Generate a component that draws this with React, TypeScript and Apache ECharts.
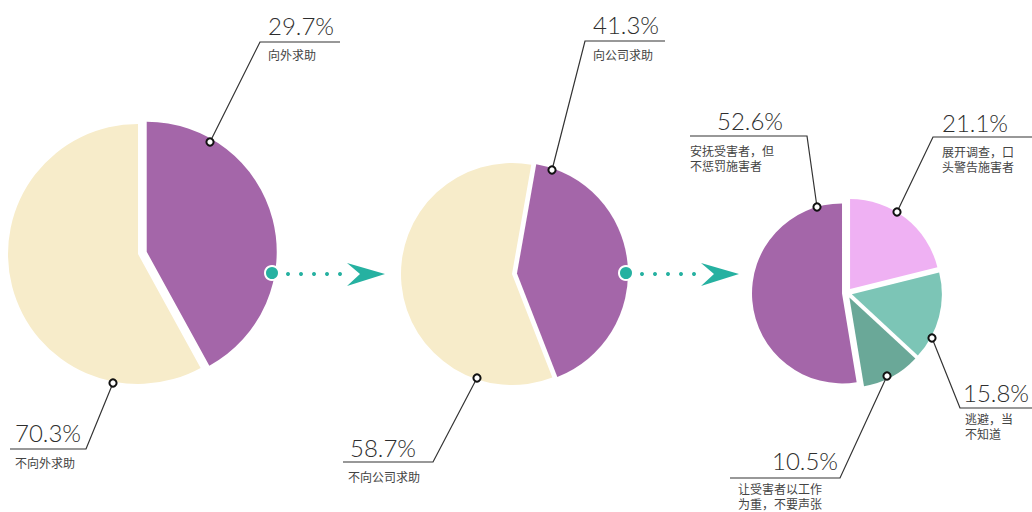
import React, { useEffect, useRef } from "react";
import * as echarts from "echarts";

// ---- data ----
const pie1Names = ["向外求助", "不向外求助"];
const pie1Labels = ["29.7%", "70.3%"];
const pie1Shares = [42, 58]; // slice sizes as drawn in the picture

const pie2Names = ["向公司求助", "不向公司求助"];
const pie2Values = [41.3, 58.7];

const pie3Names = [
  "展开调查，口\n头警告施害者",
  "逃避，当\n不知道",
  "让受害者以工作\n为重，不要声张",
  "安抚受害者，但\n不惩罚施害者",
];
const pie3Values = [21.1, 15.8, 10.5, 52.6];

const PURPLE = "#a466a9";
const CREAM = "#f7ecca";
const pie3Colors = ["#efb1f3", "#7cc5b6", "#6aa898", PURPLE];
const TEAL = "#26b1a1";

const pctFont = "300 24px Lato, 'Noto Sans', sans-serif";
const smallFont = "12px 'Noto Sans CJK SC', sans-serif";

function leader(p: number[][]) {
  return [
    {
      type: "polyline",
      z: 100,
      shape: { points: p },
      style: { stroke: "#333", lineWidth: 1.2, fill: null },
    },
    {
      type: "circle",
      z: 101,
      shape: { cx: p[0][0], cy: p[0][1], r: 3.6 },
      style: { fill: "#fff", stroke: "#111", lineWidth: 2 },
    },
  ];
}

function pct(text: string, x: number, y: number) {
  return {
    type: "text",
    z: 100,
    x,
    y,
    style: { text, font: pctFont, fill: "#2e2e2e", verticalAlign: "top" },
  };
}

function small(text: string, x: number, y: number) {
  return text.split("\n").map((line, i) => ({
    type: "text",
    z: 100,
    x,
    y: y + i * 15,
    style: {
      text: line,
      font: smallFont,
      fill: "#444",
      verticalAlign: "top",
    },
  }));
}

function arrow(cx: number) {
  const els: any[] = [];
  [16, 29, 42, 55, 68].forEach((d) =>
    els.push({
      type: "circle",
      z: 100,
      shape: { cx: cx + d, cy: 274, r: 2 },
      style: { fill: TEAL },
    })
  );
  els.push({
    type: "polygon",
    z: 100,
    shape: {
      points: [
        [cx + 75, 263],
        [cx + 113, 274],
        [cx + 75, 286],
        [cx + 88, 274],
      ],
    },
    style: { fill: TEAL },
  });
  els.push({
    type: "circle",
    z: 101,
    shape: { cx, cy: 273, r: 7 },
    style: { fill: TEAL, stroke: "#fff", lineWidth: 2 },
  });
  return els;
}

const App: React.FC = () => {
  const ref = useRef<HTMLDivElement>(null);

  useEffect(() => {
    if (!ref.current) return;
    const chart = echarts.init(ref.current, undefined, { renderer: "svg" });

    const baseSeries = {
      type: "pie",
      silent: true,
      selectedMode: "multiple",
      label: { show: false },
      labelLine: { show: false },
      emphasis: { disabled: true },
      itemStyle: { borderWidth: 0 },
    };

    const option: any = {
      animation: false,
      backgroundColor: "#fff",
      series: [
        {
          ...baseSeries,
          center: [138, 254],
          radius: 130,
          startAngle: 90,
          selectedOffset: 9,
          data: pie1Names.map((n, i) => ({
            name: n,
            value: pie1Shares[i],
            selected: i === 0,
            itemStyle: { color: i === 0 ? PURPLE : CREAM },
          })),
        },
        {
          ...baseSeries,
          center: [512, 274],
          radius: 111,
          startAngle: 80,
          selectedOffset: 5,
          data: pie2Names.map((n, i) => ({
            name: n,
            value: pie2Values[i],
            selected: i === 0,
            itemStyle: { color: i === 0 ? PURPLE : CREAM },
          })),
        },
        {
          ...baseSeries,
          center: [847, 293],
          radius: 90,
          startAngle: 90,
          selectedOffset: 5,
          data: pie3Names.map((n, i) => ({
            name: n,
            value: pie3Values[i],
            selected: true,
            itemStyle: { color: pie3Colors[i] },
          })),
        },
      ],
      graphic: [
        // pie 1
        ...leader([[210, 142], [260, 42], [340, 42]]),
        pct(pie1Labels[0], 268, 13),
        ...small(pie1Names[0], 268, 48),
        ...leader([[113, 383], [86, 449], [10, 449]]),
        pct(pie1Labels[1], 15, 420),
        ...small(pie1Names[1], 15, 456),
        // pie 2
        ...leader([[552, 170], [585, 41], [665, 41]]),
        pct(pie2Values[0].toFixed(1) + "%", 593, 12),
        ...small(pie2Names[0], 593, 48),
        ...leader([[477, 378], [433, 462], [343, 462]]),
        pct(pie2Values[1].toFixed(1) + "%", 350, 435),
        ...small(pie2Names[1], 348, 470),
        // pie 3
        ...leader([[817, 207], [807, 136], [690, 136]]),
        pct(pie3Values[3].toFixed(1) + "%", 717, 108),
        ...small(pie3Names[3], 690, 144),
        ...leader([[897, 212], [933, 137], [1032, 137]]),
        pct(pie3Values[0].toFixed(1) + "%", 942, 110),
        ...small(pie3Names[0], 942, 145),
        ...leader([[932, 338], [960, 408], [1032, 408]]),
        pct(pie3Values[1].toFixed(1) + "%", 963, 380),
        ...small(pie3Names[1], 965, 412),
        ...leader([[887, 376], [840, 478], [730, 478]]),
        pct(pie3Values[2].toFixed(1) + "%", 772, 448),
        ...small(pie3Names[2], 738, 482),
        // arrows
        ...arrow(272),
        ...arrow(626),
      ],
    };

    chart.setOption(option);
    return () => chart.dispose();
  }, []);

  return (
    <div
      ref={ref}
      style={{
        position: "fixed",
        left: 0,
        top: 0,
        width: 1032,
        height: 512,
        background: "#fff",
      }}
    />
  );
};

export default App;
